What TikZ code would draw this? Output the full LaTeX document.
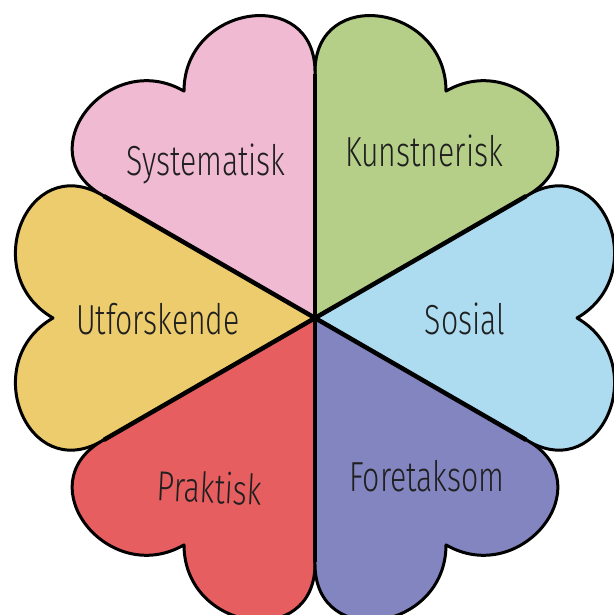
\documentclass[tikz,border=0pt]{standalone}
\usepackage{fontspec}
\IfFontExistsTF{Fira Sans Light}
  {\newfontfamily\hand{Fira Sans Light}[FakeStretch=0.72]}
  {\newfontfamily\hand{Liberation Sans}[FakeStretch=0.68]}
\definecolor{cPink}{RGB}{240,186,211}
\definecolor{cGreen}{RGB}{181,207,137}
\definecolor{cBlue}{RGB}{173,219,240}
\definecolor{cPurple}{RGB}{131,133,192}
\definecolor{cRed}{RGB}{230,94,96}
\definecolor{cYellow}{RGB}{237,204,110}
\tikzset{
  heart/.pic={
    \path[pic actions] (0,0) -- (213,123)
      .. controls (288.3,166.5) and (337.3,43.5) .. (262,0)
      .. controls (337.3,-43.5) and (288.3,-166.5) .. (213,-123) -- cycle;
  },
  petal/.style={draw=black, line width=3pt, line join=round},
  spoke/.style={draw=black, line width=4.5pt},
  word/.style={font=\hand\fontsize{42}{42}\selectfont, text=black!88, anchor=base, inner sep=0pt}
}
\begin{document}
\begin{tikzpicture}[x=1pt,y=1pt]
\useasboundingbox (0,0) rectangle (613,615);
\coordinate (C) at (315,297);
\pic[petal, fill=cBlue,   rotate=0]   at (C) {heart};
\pic[petal, fill=cGreen,  rotate=60]  at (C) {heart};
\pic[petal, fill=cPink,   rotate=120] at (C) {heart};
\pic[petal, fill=cYellow, rotate=180] at (C) {heart};
\pic[petal, fill=cRed,    rotate=240] at (C) {heart};
\pic[petal, fill=cPurple, rotate=300] at (C) {heart};
\foreach \a in {30,90,150,210,270,330}{
  \draw[spoke] (C) -- ++(\a:244);
}
\node[word] (sys) at (206,439) {Systematisk};
\node[word] (kun) at (424,448) {Kunstnerisk};
\node[word] (utf) at (158,280) {Utforskende};
\node[word] (sos) at (465,280) {Sosial};
\node[word, rotate=-3] (pra) at (209,112) {Praktisk};
\node[word] (for) at (427,123) {Foretaksom};
\end{tikzpicture}
\end{document}
